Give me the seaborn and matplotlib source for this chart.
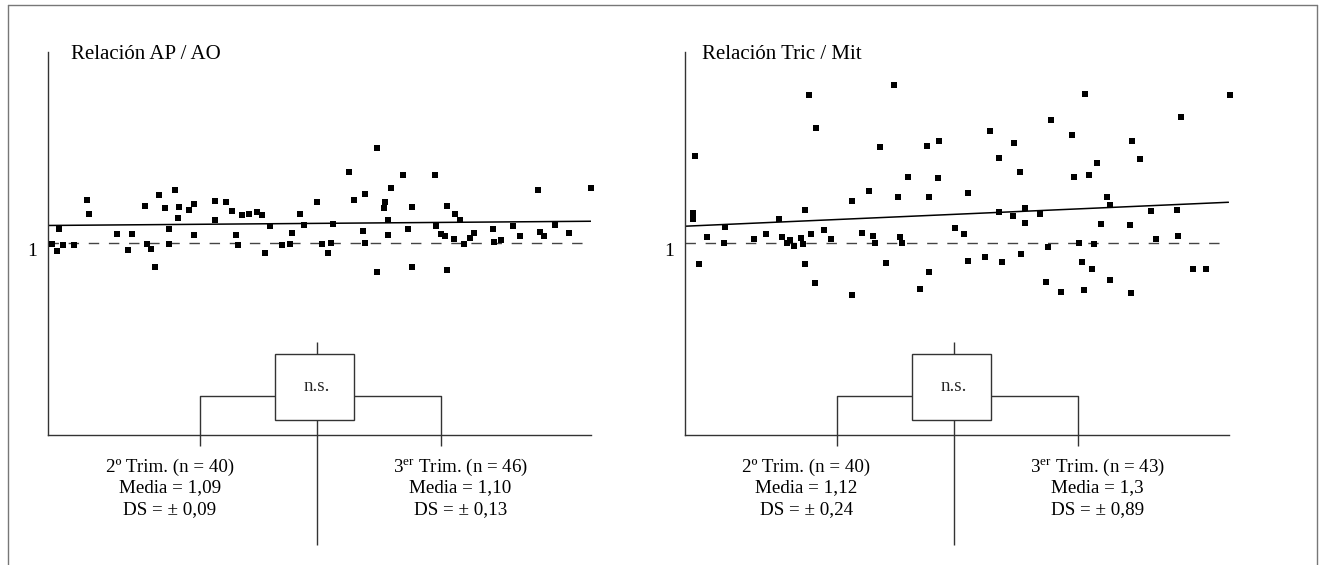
import numpy as np
import pandas as pd
import matplotlib
matplotlib.use("Agg")
import matplotlib.pyplot as plt
from matplotlib.lines import Line2D
from matplotlib.patches import Rectangle
import seaborn as sns

# ---- Relación AP / AO ----
ap_x = [0.8, 1.6, 2.1, 2.8, 4.7, 7.2, 7.6, 12.7, 14.7, 15.5, 17.9, 18.2, 19.0, 19.7,
        20.4, 21.6, 22.3, 22.3, 23.4, 24.1, 24.0, 26.0, 26.8, 26.9, 30.7, 30.7, 32.7,
        33.9, 34.6, 34.9, 35.8, 37.1, 38.4, 39.5, 39.9, 40.9, 43.1, 44.6, 44.9, 46.5,
        47.1, 49.5, 50.5, 51.6, 52.1, 52.4, 55.5, 56.3, 58.0, 58.4, 58.4, 60.5, 60.6,
        62.0, 61.9, 62.7, 62.7, 63.1, 65.4, 66.3, 67.0, 67.0, 71.2, 71.5, 72.3, 73.2,
        73.5, 73.5, 75.0, 74.7, 75.9, 76.7, 77.8, 78.5, 81.9, 82.1, 83.4, 85.6, 86.9,
        90.2, 90.6, 91.4, 93.4, 95.9, 100.0]
ap_y = [0.995, 0.960, 1.076, 0.993, 0.990, 1.226, 1.153, 1.047, 0.965, 1.047, 1.196,
        0.996, 0.969, 0.875, 1.255, 1.184, 1.076, 0.996, 1.279, 1.188, 1.132, 1.177,
        1.205, 1.043, 1.224, 1.120, 1.217, 1.167, 1.045, 0.993, 1.146, 1.154, 1.163,
        1.148, 0.948, 1.089, 0.991, 0.996, 1.054, 1.156, 1.099, 1.215, 0.996, 0.953,
        1.000, 1.101, 1.375, 1.227, 1.063, 1.257, 1.005, 1.497, 0.854, 1.214, 1.184,
        1.121, 1.045, 1.290, 1.355, 1.073, 1.191, 0.876, 1.355, 1.092, 1.052, 1.038,
        1.196, 0.862, 1.156, 1.026, 1.121, 0.998, 1.031, 1.057, 1.075, 1.008, 1.019,
        1.092, 1.040, 1.278, 1.060, 1.038, 1.095, 1.057, 1.287]
ap_trend_x = [0, 100]
ap_trend_y = [1.094, 1.116]
ap_groups = [["2º Trim. (n = 40)", "Media = 1,09", "DS = ± 0,09"],
             [r"3$^{\mathrm{er}}$ Trim. (n = 46)", "Media = 1,10", "DS = ± 0,13"]]

# ---- Relación Tric / Mit ----
tm_x = [1.5, 1.5, 1.9, 2.6, 4.1, 7.3, 7.4, 12.7, 15.0, 17.4, 17.9, 18.9, 19.4, 20.1,
        21.4, 21.7, 22.1, 22.1, 22.9, 23.2, 24.0, 24.2, 25.7, 26.9, 30.7, 30.8, 32.6,
        34.0, 34.7, 35.0, 35.9, 37.1, 38.6, 39.3, 39.7, 40.0, 41.0, 43.2, 44.6, 44.9,
        44.9, 46.6, 46.8, 49.7, 51.3, 52.2, 52.2, 55.3, 56.2, 57.9, 57.9, 58.4, 60.4,
        60.5, 61.7, 61.9, 62.5, 62.5, 65.4, 66.5, 66.8, 67.4, 69.2, 71.3, 71.6, 72.5,
        73.1, 73.4, 73.7, 74.4, 74.9, 75.2, 75.8, 76.6, 77.6, 78.2, 78.3, 81.9, 82.1,
        82.3, 83.7, 85.8, 86.7, 90.5, 90.7, 91.3, 93.5, 95.9, 100.3]
tm_y = [1.160, 1.129, 1.455, 0.892, 1.035, 1.004, 1.087, 1.021, 1.048, 1.127, 1.035,
        1.000, 1.017, 0.986, 1.028, 0.998, 1.176, 0.892, 1.772, 1.048, 0.795, 1.601,
        1.071, 1.021, 1.224, 0.729, 1.054, 1.276, 1.038, 1.000, 1.504, 0.897, 1.827,
        1.241, 1.035, 1.004, 1.346, 0.765, 1.509, 1.245, 0.852, 1.343, 1.533, 1.082,
        1.051, 1.262, 0.911, 0.931, 1.584, 1.162, 1.447, 0.901, 1.144, 1.525, 1.374,
        0.944, 1.186, 1.108, 1.155, 0.798, 0.981, 1.643, 0.746, 1.567, 1.346, 1.002,
        0.903, 0.757, 1.777, 1.358, 0.868, 0.998, 1.419, 1.104, 1.241, 1.200, 0.812,
        1.099, 0.743, 1.533, 1.443, 1.168, 1.026, 1.177, 1.038, 1.657, 0.868, 0.866,
        1.775]
tm_trend_x = [0, 100]
tm_trend_y = [1.090, 1.215]
tm_groups = [["2º Trim. (n = 40)", "Media = 1,12", "DS = ± 0,24"],
             [r"3$^{\mathrm{er}}$ Trim. (n = 43)", "Media = 1,3", "DS = ± 0,89"]]

panels = [
    dict(title="Relación AP / AO", x=ap_x, y=ap_y, tx=ap_trend_x, ty=ap_trend_y,
         groups=ap_groups, rect=[0.03628, 0.22956, 0.41043, 0.67894], title_x=4.3,
         one_dx=-11),
    dict(title="Relación Tric / Mit", x=tm_x, y=tm_y, tx=tm_trend_x, ty=tm_trend_y,
         groups=tm_groups, rect=[0.51739, 0.22956, 0.41119, 0.67894], title_x=3.3,
         one_dx=-10),
]

sns.set_theme(style="white")
plt.rcParams["font.family"] = ["Liberation Serif", "DejaVu Serif"]
plt.rcParams["mathtext.fontset"] = "custom"
plt.rcParams["mathtext.rm"] = "Liberation Serif"
plt.rcParams["mathtext.it"] = "Liberation Serif:italic"

LINE = "#333333"
fig = plt.figure(figsize=(13.23, 5.65), dpi=100)
fig.patch.set_facecolor("white")

# thin outer frame (open at the bottom edge)
for xs, ys in [([0.00567, 0.00567], [0.0, 0.99115]),
               ([0.00567, 0.99584], [0.99115, 0.99115]),
               ([0.99584, 0.99584], [0.99115, 0.0])]:
    fig.add_artist(Line2D(xs, ys, transform=fig.transFigure, color="#777777", lw=1.0))

for p in panels:
    ax = fig.add_axes(p["rect"])
    ax.set_facecolor("white")
    df = pd.DataFrame({"x": p["x"], "y": p["y"]})
    ax.axhline(1, color="#444444", lw=1.0, dashes=(7.5, 7.0), zorder=1)
    sns.lineplot(x=p["tx"], y=p["ty"], ax=ax, color="black", lw=1.1, zorder=2)
    sns.scatterplot(data=df, x="x", y="y", ax=ax, marker="s", s=21, color="black",
                    linewidth=0, zorder=3, clip_on=False)
    ax.set_xlim(0, 100)
    ax.set_ylim(0, 2)
    ax.set_xticks([])
    ax.set_yticks([])
    ax.set_xlabel("")
    ax.set_ylabel("")
    for side in ["top", "right"]:
        ax.spines[side].set_visible(False)
    for side in ["left", "bottom"]:
        ax.spines[side].set_color(LINE)
        ax.spines[side].set_linewidth(1.0)

    ax.text(p["title_x"], 1.96, p["title"], fontsize=15, ha="left", va="baseline",
            color="black")
    ax.annotate("1", xy=(0, 1), xycoords=ax.get_yaxis_transform(),
                xytext=(p["one_dx"], -12.5), textcoords="offset pixels",
                ha="right", va="baseline", fontsize=14, color="black")

    # comparison bracket with the significance box
    kw = dict(color=LINE, lw=1.0, clip_on=False, solid_capstyle="butt")
    ax.plot([28.0, 28.0, 41.8], [-0.056, 0.205, 0.205], **kw)
    ax.plot([56.3, 72.3, 72.3], [0.205, 0.205, -0.056], **kw)
    ax.plot([49.5, 49.5], [0.425, 0.486], **kw)
    ax.plot([49.5, 49.5], [0.080, -0.572], **kw)
    ax.add_patch(Rectangle((41.8, 0.080), 14.5, 0.345, fill=True, facecolor="white",
                           edgecolor=LINE, lw=1.0, clip_on=False, zorder=4))
    ax.text(49.5, 0.252, "n.s.", fontsize=13.7, ha="center", va="center", zorder=5)

    for cx, lines in zip([22.4, 75.9], p["groups"]):
        for yy, s in zip([-0.190, -0.297, -0.410], lines):
            ax.text(cx, yy, s, fontsize=13.7, ha="center", va="baseline",
                    color="black", clip_on=False)

fig.savefig("out.png", dpi=100, facecolor="white")
